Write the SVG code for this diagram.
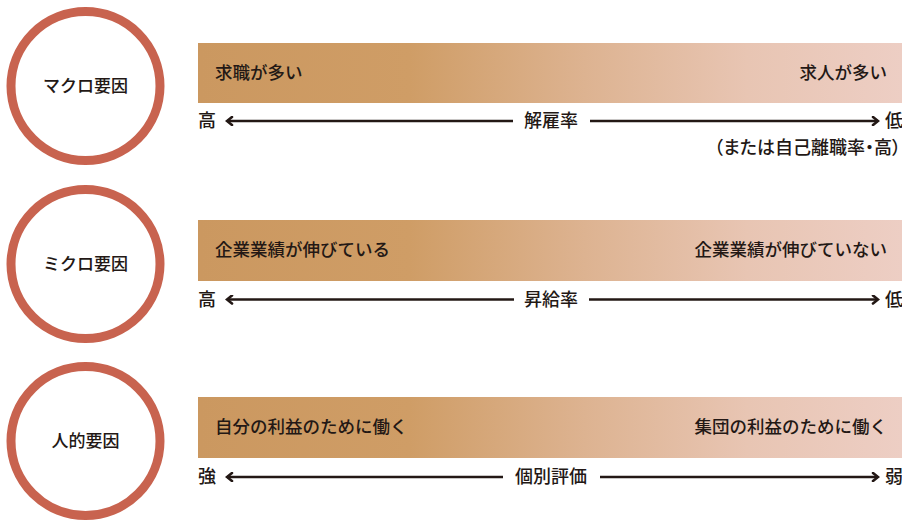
<svg xmlns="http://www.w3.org/2000/svg" width="902" height="520" viewBox="0 0 902 520">
<defs>
<linearGradient id="g" x1="0" y1="0" x2="1" y2="0">
<stop offset="0" stop-color="#CB9860"/>
<stop offset="0.3" stop-color="#CF9D66"/>
<stop offset="0.55" stop-color="#DDB391"/>
<stop offset="0.78" stop-color="#E8C5B3"/>
<stop offset="1" stop-color="#EDCEC4"/>
</linearGradient>
<marker id="ah" viewBox="0 0 10 10" refX="8" refY="5" markerWidth="10" markerHeight="10" markerUnits="userSpaceOnUse" orient="auto-start-reverse">
<polyline points="3,1 8,5 3,9" fill="none" stroke="#231815" stroke-width="2.6" stroke-linecap="round" stroke-linejoin="miter"/>
</marker>
<style>
text{font-family:"Noto Sans CJK JP","Noto Sans",sans-serif;fill:#231815;font-size:17.5px;font-weight:500}
.c{fill:#fff;stroke:#C8634F;stroke-width:9}
.cl{font-size:17px;text-anchor:middle}
.a{font-size:18px}
.m{text-anchor:middle}
.e{text-anchor:end}
.p{font-feature-settings:"palt";font-size:18px}
.ln{stroke:#231815;stroke-width:2.4;fill:none}
</style>
</defs>
<rect width="902" height="520" fill="#fff"/>
<g id="macro">
<circle class="c" cx="85.5" cy="86" r="74.5"/>
<text class="cl" x="85.5" y="92">マクロ要因</text>
<rect x="198" y="43" width="704" height="60" fill="url(#g)"/>
<text x="215" y="79">求職が多い</text>
<text class="e" x="887" y="79">求人が多い</text>
<text class="a" x="198" y="127">高</text>
<text class="a m" x="551" y="127">解雇率</text>
<text class="a" x="885" y="127">低</text>
<text class="e p" x="901" y="154">（または自己離職率・高）</text>
</g>
<g id="micro">
<circle class="c" cx="85.5" cy="264" r="74.5"/>
<text class="cl" x="85.5" y="270">ミクロ要因</text>
<rect x="198" y="220" width="704" height="61" fill="url(#g)"/>
<text x="215" y="256">企業業績が伸びている</text>
<text class="e" x="887" y="256">企業業績が伸びていない</text>
<text class="a" x="198" y="306">高</text>
<text class="a m" x="551" y="306">昇給率</text>
<text class="a" x="885" y="306">低</text>
</g>
<g id="human">
<circle class="c" cx="85.5" cy="441" r="74.5"/>
<text class="cl" x="85.5" y="447">人的要因</text>
<rect x="198" y="397" width="704" height="61" fill="url(#g)"/>
<text x="215" y="433">自分の利益のために働く</text>
<text class="e" x="887" y="433">集団の利益のために働く</text>
<text class="a" x="198" y="483">強</text>
<text class="a m" x="551" y="483">個別評価</text>
<text class="a" x="885" y="483">弱</text>
</g>
<g id="connectors">
<line class="ln" x1="513" y1="121" x2="227" y2="121" marker-end="url(#ah)"/>
<line class="ln" x1="590" y1="121" x2="878" y2="121" marker-end="url(#ah)"/>
<line class="ln" x1="514" y1="299.5" x2="227" y2="299.5" marker-end="url(#ah)"/>
<line class="ln" x1="589" y1="299.5" x2="878" y2="299.5" marker-end="url(#ah)"/>
<line class="ln" x1="503" y1="477" x2="227" y2="477" marker-end="url(#ah)"/>
<line class="ln" x1="600" y1="477" x2="878" y2="477" marker-end="url(#ah)"/>
</g>
</svg>
